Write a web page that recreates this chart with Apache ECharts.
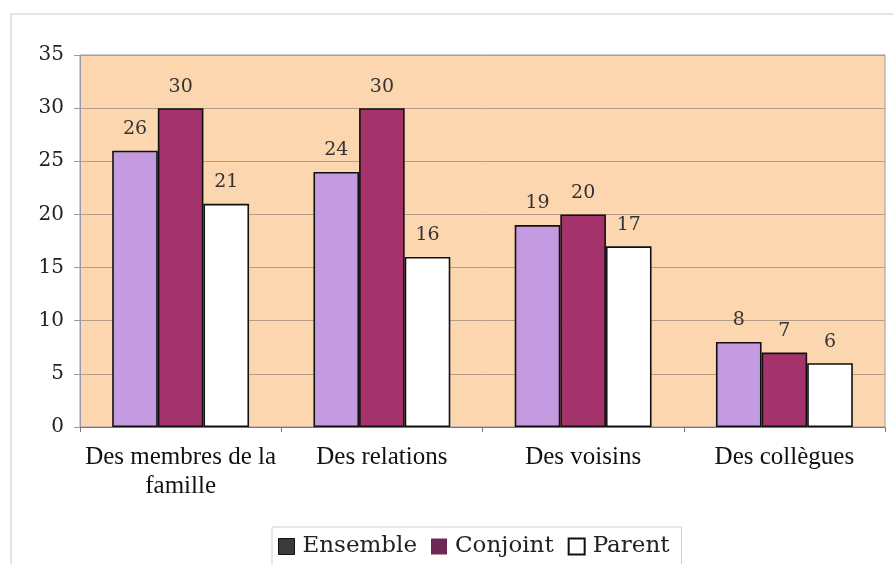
<!DOCTYPE html>
<html><head><meta charset="utf-8">
<script src="https://cdn.jsdelivr.net/npm/echarts@6/dist/echarts.min.js"></script>
<style>html,body{margin:0;padding:0;background:#fff}#c{width:893px;height:564px}</style>
</head><body><div id="c"></div>
<script>
const categories = ["Des membres de la famille", "Des relations", "Des voisins", "Des collègues"];
const ensemble = [26, 24, 19, 8];
const conjoint = [30, 30, 20, 7];
const parent = [21, 16, 17, 6];
const yTicks = [0, 5, 10, 15, 20, 25, 30, 35];

const chart = echarts.init(document.getElementById('c'));
const numFont = 'DejaVu Serif';
const lbl = {show: true, position: 'top', distance: 12, color: '#333', fontFamily: numFont, fontSize: 19};
function bar(name, data, color) {
  return {name, type: 'bar', data, barGap: '0%', barCategoryGap: '32%',
    itemStyle: {color, borderColor: '#111', borderWidth: 1.6}, label: lbl};
}
chart.setOption({
  animation: false,
  backgroundColor: '#fff',
  graphic: [{type: 'rect', shape: {x: 11, y: 14, width: 900, height: 600},
    style: {fill: 'none', stroke: '#dcdcdc', lineWidth: 1.5}, silent: true, z: -1}],
  grid: {left: 80, right: 8, top: 55, bottom: 137, backgroundColor: '#fbd6ae', show: true, borderColor: '#9a9aa8', borderWidth: 1},
  legend: {bottom: -8, left: 272, itemGap: 14, itemWidth: 16, itemHeight: 16, icon: 'rect',
    borderColor: '#cfcfcf', borderWidth: 1, padding: [8, 12, 14, 6],
    textStyle: {fontFamily: numFont, fontSize: 23, color: '#222', padding: [0, 0, 0, 3]},
    data: [
      {name: 'Ensemble', itemStyle: {color: '#3a3a3a', borderColor: '#111', borderWidth: 1}},
      {name: 'Conjoint', itemStyle: {color: '#6e2a55', borderWidth: 0}},
      {name: 'Parent', itemStyle: {color: '#fff', borderColor: '#111', borderWidth: 2}}
    ]},
  xAxis: {type: 'category', data: categories,
    axisLine: {lineStyle: {color: '#777', width: 1.2}},
    axisTick: {show: true, interval: 0, length: 5, lineStyle: {color: '#777'}},
    axisLabel: {interval: 0, color: '#111', fontFamily: 'Liberation Serif', fontSize: 25, margin: 16, lineHeight: 29,
      formatter: v => v === categories[0] ? 'Des membres de la\nfamille' : v}},
  yAxis: {type: 'value', min: 0, max: 35, interval: 5,
    axisLine: {show: true, lineStyle: {color: '#9a9aa8'}},
    axisTick: {show: true, length: 6, lineStyle: {color: '#9a9aa8'}},
    splitLine: {lineStyle: {color: '#b59c84', width: 1}},
    axisLabel: {color: '#222', fontFamily: numFont, fontSize: 20, margin: 16,
      formatter: v => yTicks.includes(v) ? String(v) : ''}},
  series: [
    bar('Ensemble', ensemble, '#c49be0'),
    bar('Conjoint', conjoint, '#a3336a'),
    bar('Parent', parent, '#ffffff')
  ]
});
</script></body></html>
